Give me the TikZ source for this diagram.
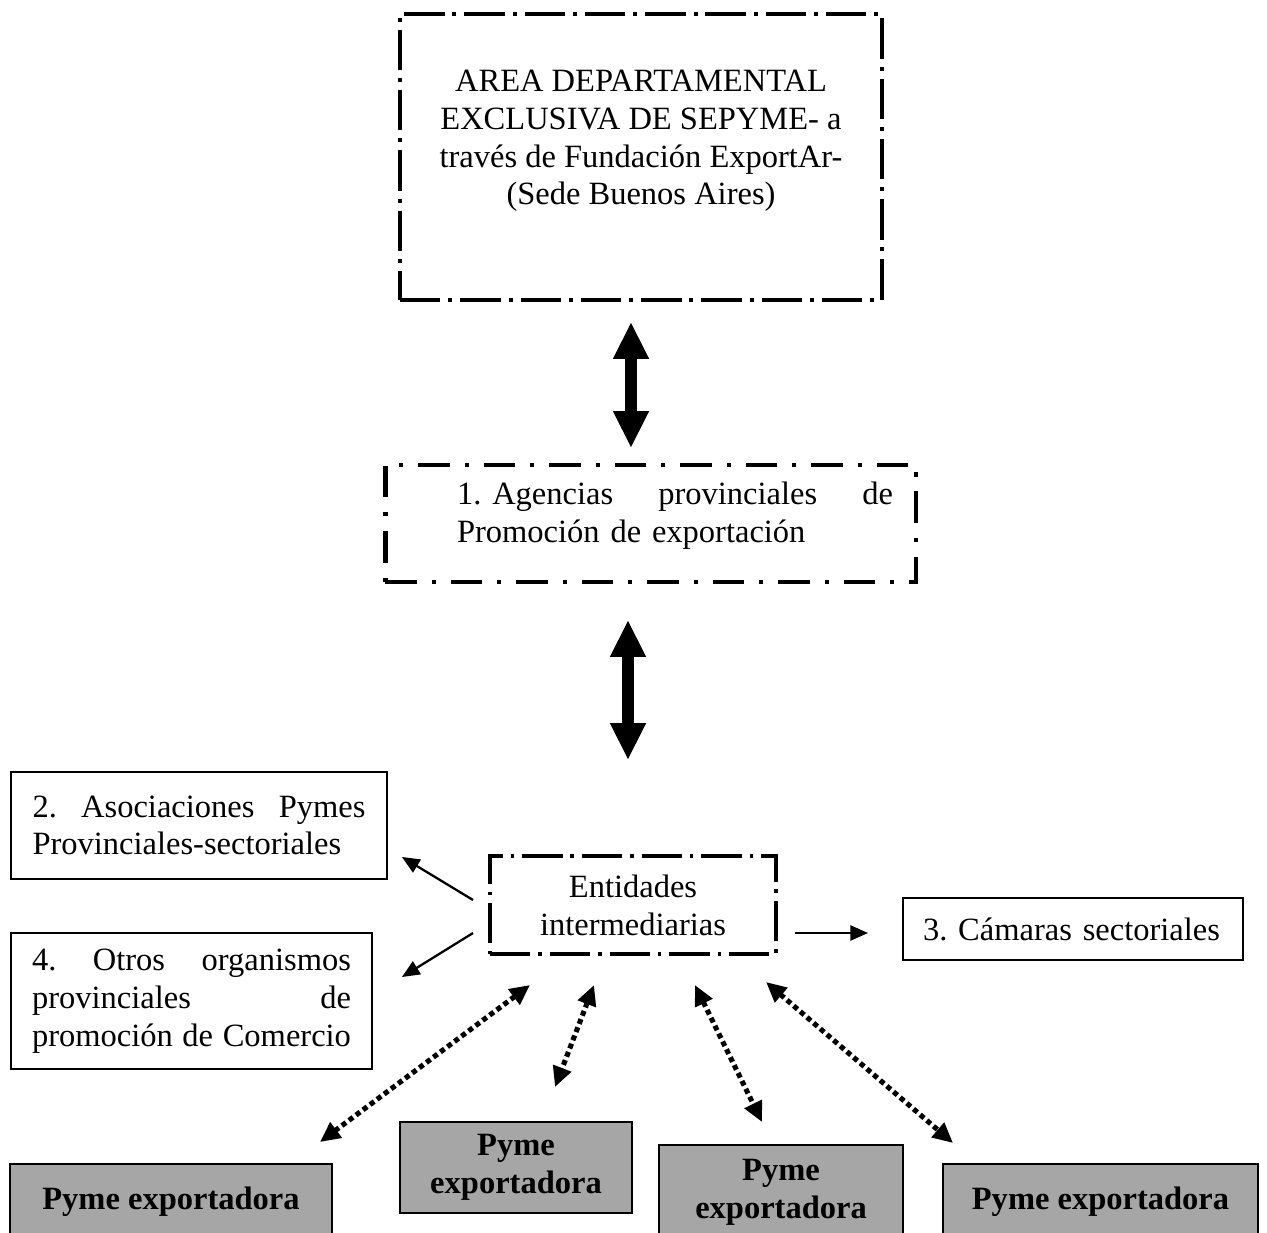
\documentclass[tikz,border=0pt]{standalone}
\usepackage{fontspec}
\setmainfont{Liberation Serif}
\usepackage{tikz}
\usetikzlibrary{arrows.meta,calc}
\definecolor{pymegray}{gray}{0.65}
\newcommand{\jsp}{\hspace{\fill}}
\frenchspacing

\begin{document}
\begin{tikzpicture}[x=0.02cm,y=-0.02cm,
    every node/.style={font=\fontsize{18.5}{21.5}\selectfont,outer sep=0pt},
    areabox/.style={draw,line width=2.3pt,dash pattern=on 23pt off 4.5pt on 2.3pt off 4.5pt,inner sep=0pt},
    agbox/.style={draw,line width=2.8pt,dash pattern=on 18pt off 8.5pt on 2.3pt off 8.5pt,inner sep=0pt},
    entbox/.style={draw,line width=2pt,dash pattern=on 23pt off 4.5pt on 2pt off 4.5pt,inner sep=0pt,align=center},
    plainbox/.style={draw,line width=1.1pt,align=left,inner ysep=0pt},
    pymebox/.style={draw,line width=1.1pt,fill=pymegray,align=center,inner sep=0pt,font=\fontsize{18.5}{21.5}\selectfont\bfseries},
    bigarrow/.style={line width=6.3pt,{Triangle[length=21pt,width=19pt]}-{Triangle[length=21pt,width=19pt]}},
    thinarrow/.style={line width=1.3pt,-{Triangle[length=10pt,width=8.5pt]}},
    dotarrow/.style={line width=2.9pt,dash pattern=on 2.9pt off 2.1pt,{Triangle[length=11.5pt,width=10.5pt]}-{Triangle[length=11.5pt,width=10.5pt]}}]
        \useasboundingbox (0,0) rectangle (1267,1233);

        \node[areabox,minimum width=9.64cm,minimum height=5.72cm](area) at (641,157) {};
        \node[align=center](areatext) at (641,141) {AREA DEPARTAMENTAL\\EXCLUSIVA DE SEPYME- a\\través de Fundación ExportAr-\\(Sede Buenos Aires)};

        \node[agbox,minimum width=10.62cm,minimum height=2.34cm](agbox) at (650.5,523.5) {};
        \node[align=left,text width=8.72cm,inner sep=0pt](agtext) at (675,516) {1.\ Agencias\jsp provinciales\jsp de\\Promoción de exportación};

        \node[plainbox,text width=6.66cm,inner xsep=0.43cm,minimum height=2.14cm](asoc) at (199,825.5) {2.\jsp Asociaciones\jsp Pymes\\Provinciales-sectoriales};
        \node[plainbox,text width=6.38cm,inner xsep=0.42cm,minimum height=2.72cm](otros) at (191.5,1001) {4.\jsp Otros\jsp organismos\\provinciales\jsp de\\promoción\jsp de\jsp Comercio};
        \node[plainbox,text width=6cm,inner xsep=0.4cm,minimum height=1.24cm](camaras) at (1073,929) {3. Cámaras sectoriales};
        \node[entbox,minimum width=5.72cm,minimum height=1.96cm](entid) at (633,905) {Entidades\\intermediarias};

        \node[pymebox,minimum width=6.44cm,minimum height=1.52cm](g1) at (171,1202) {Pyme exportadora};
        \node[pymebox,minimum width=4.64cm,minimum height=1.82cm](g2) at (516,1167.5) {Pyme\\exportadora};
        \node[pymebox,minimum width=4.88cm,minimum height=1.88cm](g3) at (781,1192) {Pyme\\exportadora};
        \node[pymebox,minimum width=6.3cm,minimum height=1.52cm](g4) at (1100.5,1202) {Pyme exportadora};

        \draw[bigarrow] ($(area.south)+(-10,22)$) -- ($(agbox.north)+(-19.5,-17)$);
        \draw[bigarrow] ($(agbox.south)+(-22.5,38)$) -- ($(entid.north)+(-5,-96)$);

        \draw[thinarrow] ($(entid.west)+(-17,-5)$) -- ($(asoc.south east)+(15,-22)$);
        \draw[thinarrow] ($(entid.west)+(-17,28)$) -- ($(otros.east)+(30,-24)$);
        \draw[thinarrow] ($(entid.east)+(19,28)$) -- ($(camaras.west)+(-35,4)$);

        \draw[dotarrow] ($(entid.south west)+(40,31)$) -- ($(g1.north east)+(-12,-22)$);
        \draw[dotarrow] ($(entid.south west)+(104,31)$) -- ($(g2.north)+(39,-35)$);
        \draw[dotarrow] ($(entid.south east)+(-81,31)$) -- ($(g3.north west)+(103,-23)$);
        \draw[dotarrow] ($(entid.south east)+(-10,28)$) -- ($(g4.north west)+(10,-21)$);
\end{tikzpicture}
\end{document}
